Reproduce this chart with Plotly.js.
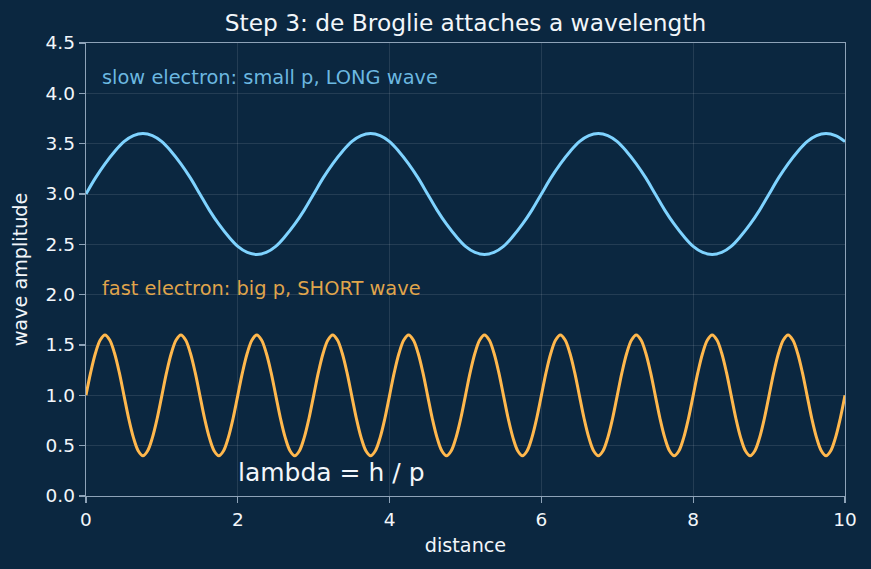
<!DOCTYPE html>
<html>
<head>
<meta charset="utf-8">
<script src="https://cdn.plot.ly/plotly-3.0.1.min.js"></script>
<style>html,body{margin:0;padding:0;background:#0b2740;}#chart{width:871px;height:569px;}</style>
</head>
<body>
<div id="chart"></div>
<script>
// Slow electron wave, every 0.125 distance units (x = 0 .. 10)
const slowStep = 0.125;
const slowY = [
  3.0,3.16,3.3,3.42,3.52,3.58,3.6,3.58,3.52,3.42,3.3,3.16,3.0,2.84,2.7,2.58,2.48,2.42,2.4,2.42,2.48,2.58,2.7,2.84,
  3.0,3.16,3.3,3.42,3.52,3.58,3.6,3.58,3.52,3.42,3.3,3.16,3.0,2.84,2.7,2.58,2.48,2.42,2.4,2.42,2.48,2.58,2.7,2.84,
  3.0,3.16,3.3,3.42,3.52,3.58,3.6,3.58,3.52,3.42,3.3,3.16,3.0,2.84,2.7,2.58,2.48,2.42,2.4,2.42,2.48,2.58,2.7,2.84,
  3.0,3.16,3.3,3.42,3.52,3.58,3.6,3.58,3.52
];
// Fast electron wave, every 0.0625 distance units (x = 0 .. 10)
const fastStep = 0.0625;
const fastY = [
  1.0,1.23,1.42,1.55,1.6,1.55,1.42,1.23,1.0,0.77,0.58,0.45,0.4,0.45,0.58,0.77,
  1.0,1.23,1.42,1.55,1.6,1.55,1.42,1.23,1.0,0.77,0.58,0.45,0.4,0.45,0.58,0.77,
  1.0,1.23,1.42,1.55,1.6,1.55,1.42,1.23,1.0,0.77,0.58,0.45,0.4,0.45,0.58,0.77,
  1.0,1.23,1.42,1.55,1.6,1.55,1.42,1.23,1.0,0.77,0.58,0.45,0.4,0.45,0.58,0.77,
  1.0,1.23,1.42,1.55,1.6,1.55,1.42,1.23,1.0,0.77,0.58,0.45,0.4,0.45,0.58,0.77,
  1.0,1.23,1.42,1.55,1.6,1.55,1.42,1.23,1.0,0.77,0.58,0.45,0.4,0.45,0.58,0.77,
  1.0,1.23,1.42,1.55,1.6,1.55,1.42,1.23,1.0,0.77,0.58,0.45,0.4,0.45,0.58,0.77,
  1.0,1.23,1.42,1.55,1.6,1.55,1.42,1.23,1.0,0.77,0.58,0.45,0.4,0.45,0.58,0.77,
  1.0,1.23,1.42,1.55,1.6,1.55,1.42,1.23,1.0,0.77,0.58,0.45,0.4,0.45,0.58,0.77,
  1.0,1.23,1.42,1.55,1.6,1.55,1.42,1.23,1.0,0.77,0.58,0.45,0.4,0.45,0.58,0.77,
  1.0
];
const xTicks = [0,2,4,6,8,10];
const yTicks = [0.0,0.5,1.0,1.5,2.0,2.5,3.0,3.5,4.0,4.5];
const labels = {
  title: 'Step 3: de Broglie attaches a wavelength',
  xTitle: 'distance',
  yTitle: 'wave amplitude',
  slow: 'slow electron: small p, LONG wave',
  fast: 'fast electron: big p, SHORT wave',
  formula: 'lambda = h / p'
};

// sample positions along the distance axis
const slowX = slowY.map((_, i) => i * slowStep);
const fastX = fastY.map((_, i) => i * fastStep);

const bg = '#0b2740';
const spine = '#8ea3b8';
const grid = 'rgba(255,255,255,0.13)';
const textCol = '#f2f6fa';
const font = 'DejaVu Sans, sans-serif';

const traces = [
  {x: slowX, y: slowY, mode: 'lines', line: {color: '#7fd3ff', width: 3, shape: 'spline', smoothing: 1}, hoverinfo: 'skip'},
  {x: fastX, y: fastY, mode: 'lines', line: {color: '#ffb84d', width: 3, shape: 'spline', smoothing: 1}, hoverinfo: 'skip'}
];

const axisCommon = {
  showline: true, linecolor: spine, linewidth: 1.3, mirror: true,
  ticks: 'outside', ticklen: 6, tickwidth: 1.3, tickcolor: spine,
  showgrid: true, gridcolor: grid, gridwidth: 0.8,
  zeroline: false,
  tickfont: {family: font, size: 18.5, color: textCol}
};

const layout = {
  width: 871, height: 569,
  paper_bgcolor: bg, plot_bgcolor: bg,
  margin: {l: 86, r: 26, t: 43, b: 73},
  showlegend: false,
  font: {family: font, color: textCol},
  title: {text: labels.title, font: {family: font, size: 23.3, color: textCol}, x: 0.5345, xanchor: 'center', y: 0.96, yanchor: 'middle'},
  xaxis: Object.assign({}, axisCommon, {
    range: [0, 10], tickvals: xTicks, ticktext: xTicks.map(String),
    title: {text: labels.xTitle, font: {family: font, size: 19.2, color: textCol}, standoff: 10}
  }),
  yaxis: Object.assign({}, axisCommon, {
    range: [0, 4.5], tickvals: yTicks, ticktext: yTicks.map(v => v.toFixed(1)),
    title: {text: labels.yTitle, font: {family: font, size: 19.2, color: textCol}, standoff: 13}
  }),
  annotations: [
    {x: 0.18, y: 4.16, xref: 'x', yref: 'y', text: labels.slow, showarrow: false, xanchor: 'left', yanchor: 'middle',
     font: {family: font, size: 19.4, color: 'rgba(127,211,255,0.85)'}},
    {x: 0.18, y: 2.06, xref: 'x', yref: 'y', text: labels.fast, showarrow: false, xanchor: 'left', yanchor: 'middle',
     font: {family: font, size: 19.4, color: 'rgba(255,184,77,0.88)'}},
    {x: 1.97, y: 0.23, xref: 'x', yref: 'y', text: labels.formula, showarrow: false, xanchor: 'left', yanchor: 'middle',
     font: {family: font, size: 25, color: textCol}}
  ]
};

Plotly.newPlot('chart', traces, layout, {staticPlot: true, displayModeBar: false});
</script>
</body>
</html>
